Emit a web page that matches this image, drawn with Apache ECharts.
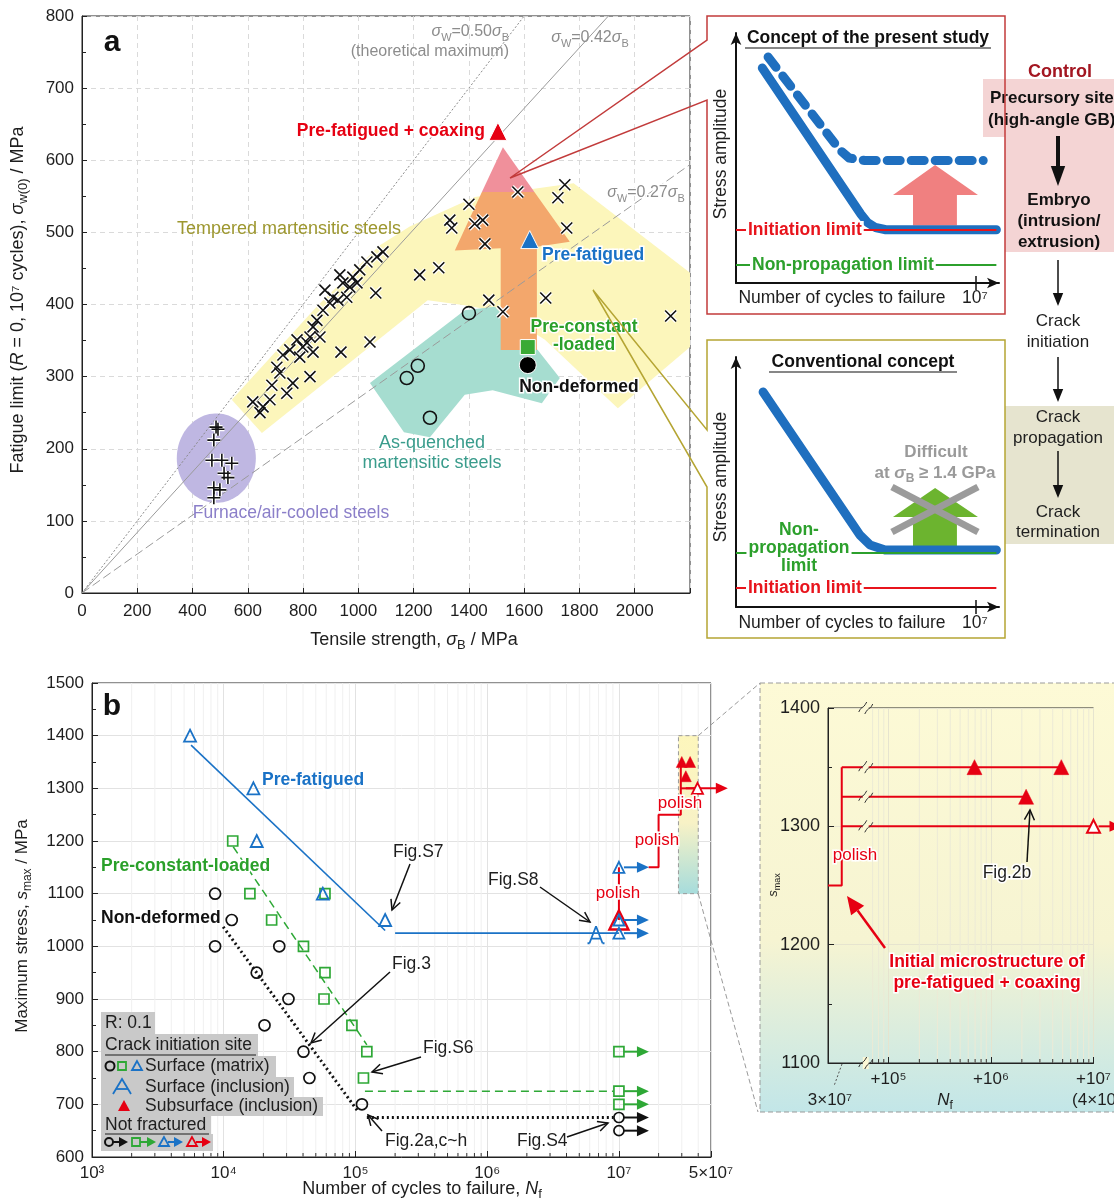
<!DOCTYPE html>
<html>
<head>
<meta charset="utf-8">
<title>Fatigue limit and S-N data of tempered martensitic steel</title>
<script src="https://cdn.jsdelivr.net/npm/echarts@6.0.0/dist/echarts.min.js"></script>
<style>
html,body{margin:0;padding:0;background:#fff;}
#chart{width:1114px;height:1202px;}
</style>
</head>
<body>
<div id="chart"></div>
<script>
// ---------- Panel a: tensile strength sigma_B vs fatigue limit sigma_w(0) (MPa) ----------
const temperedMartensitic = [
  [1577,556],[1747,566],[1722,548],[1400,539],[1331,517],[1338,506],[1421,512],[1450,517],
  [1458,484],[1754,506],[1222,441],[1291,451],[1063,416],[1472,406],[1523,390],[1678,409],
  [2130,384],[1042,348],[937,334],[1089,473],[1067,466],[1031,459],[1005,448],[980,438],
  [944,430],[995,430],[969,424],[958,410],[908,410],[897,402],[926,406],[872,392],[850,378],
  [836,369],[825,355],[814,347],[799,341],[861,355],[836,334],[788,327],[727,330],[705,313],
  [716,305],[763,291],[741,277],[825,300],[680,268],[655,258],[618,265],[644,250],[687,288],
  [778,351],[752,337],[879,420],[933,441]
];
const furnaceAirCooled = [
  [485,230],[492,227],[477,212],[470,184],[506,184],[542,180],[514,166],[528,160],[477,146],[499,143],[477,132]
];
const asQuenchedMartensitic = [[1400,388],[1215,315],[1175,298],[1259,243]];
const preFatiguedCoaxingA = [[1505,640]];
const preFatiguedA = [[1620,490]];
const preConstantLoadedA = [[1613,341]];
const nonDeformedA = [[1613,316]];
const limitRatios = [0.50, 0.42, 0.27];

// outlines of the shaded steel groups, in (sigma_B, sigma_w) units
const temperedZone = [[651,222],[542,268],[854,399],[1078,482],[1186,508],[1421,549],[1779,568],
  [2200,444],[2200,341],[1939,256],[1675,351],[1515,390],[1385,399],[1251,406]];
const asQuenchedZone = [[1042,291],[1385,392],[1494,397],[1649,337],[1729,298],[1664,263],
  [1486,281],[1385,275],[1259,216],[1165,223]];
const furnaceZone = { center:[486,187], radius:[143,62] };
const improvementArrow = [[1515,337],[1646,337],[1646,480],[1765,487],[1637,556],[1447,556],[1349,475],[1515,478]];
const improvementTip = [[1447,556],[1637,556],[1523,618]];

// ---------- Concept sketches (schematic units 0-10) ----------
const presentSN = [[1.0,8.6],[4.75,2.75],[5.0,2.42],[5.3,2.22],[5.7,2.13],[9.9,2.13]];
const presentRaisedSN = [[1.22,9.04],[3.95,5.32],[4.3,5.0],[4.9,4.9],[9.4,4.9]];
const presentInitiation = [[0,2.12],[9.9,2.12]];
const presentPropagation = [[0,0.72],[9.9,0.72]];
const presentUpArrow = [[6.73,2.3],[8.4,2.3],[8.4,3.52],[9.2,3.52],[7.57,4.72],[5.97,3.52],[6.73,3.52]];
const conventionalSN = [[1.03,8.6],[4.71,2.88],[5.1,2.48],[5.67,2.28],[9.9,2.28]];
const conventionalPropagation = [[0,2.16],[9.9,2.16]];
const conventionalInitiation = [[0,0.76],[9.9,0.76]];
const conventionalUpArrow = [[6.73,2.3],[8.4,2.3],[8.4,3.6],[9.2,3.6],[7.57,4.76],[5.97,3.6],[6.73,3.6]];
const conventionalCross = [[[5.93,4.8],[9.2,3.0]], [[5.93,3.0],[9.2,4.8]]];

// ---------- Panel b: S-N data, R = 0.1 (N_f, s_max in MPa) ----------
const nonDeformedFailed = [[8.6e3,1100],[1.15e4,1050],[8.6e3,1000],[2.64e4,1000],[1.78e4,950],
  [3.1e4,900],[2.04e4,850],[4.03e4,800],[4.47e4,750],[1.12e5,700]];
const nonDeformedRunout = [[1e7,675],[1e7,650]];
const nonDeformedSlope = [[9.9e3,1037],[1.05e5,686]];
const nonDeformedLimit = [[1.22e5,675],[9.1e6,675]];

const preConstantFailed = [[1.17e4,1200],[1.58e4,1100],[5.87e4,1100],[2.31e4,1050],[4.03e4,1000],
  [5.87e4,950],[5.77e4,900],[9.4e4,850],[1.22e5,800],[1.15e5,750]];
const preConstantRunout = [[1e7,800],[1e7,725],[1e7,700]];
const preConstantSlope = [[1.18e4,1189],[1.22e5,813]];
const preConstantLimit = [[1.18e5,725],[9.1e6,725]];

const preFatiguedFailed = [[5.55e3,1400],[1.68e4,1300],[1.78e4,1200],[5.65e4,1100],[1.68e5,1050]];
const preFatiguedInclusion = [[6.7e6,1022]];
const preFatiguedRunout = [[1e7,1150],[1e7,1050],[1e7,1025]];
const preFatiguedSlope = [[5.65e3,1382],[1.68e5,1030]];
const preFatiguedLimit = [[2.0e5,1025],[1e7,1025]];

const coaxingStart = [[1e7,1050]];
const coaxingPolish1 = [[1e7,1050],[1e7,1150]];
const coaxingPolish2 = [[1.68e7,1150],[2.0e7,1150],[2.0e7,1250],[2.95e7,1250],[2.95e7,1350]];
const coaxingSubsurface = [[3.0e7,1350],[3.47e7,1350],[3.22e7,1323]];
const coaxingRunout = [[3.95e7,1300]];
const coaxingRunoutLine = [[2.95e7,1300],[3.95e7,1300]];
const zoomWindow = { N:[2.83e7,4.0e7], s:[1100,1400] };

// enlarged coaxing steps (N_f counted after the polish)
const insetPolishStep = [[2.57e4,1250],[3.5e4,1250],[3.5e4,1350]];
const insetLevels = [[[3.5e4,1350],[4.85e6,1350]], [[3.5e4,1325],[2.2e6,1325]], [[3.5e4,1300],[1e7,1300]]];
const insetSubsurface = [[6.9e5,1350],[4.85e6,1350],[2.2e6,1325]];
const insetRunout = [[1e7,1300]];
const insetBreaks = [[6.0e4,1400],[6.0e4,1350],[6.0e4,1325],[6.0e4,1300],[6.0e4,1100]];

// ---------- styling helpers ----------
const FONT = '"Liberation Sans", Arial, Helvetica, sans-serif';
const BLUE = '#1a72c6', GREEN = '#2ea836', RED = '#e60012', INK = '#1e1e1e';
const CROSS = 'path://M0,0L10,10M10,0L0,10';
const PLUS = 'path://M5,0L5,10M0,5L10,5';
const INCL = 'path://M5,0L0,11M5,0L10,11M0.8,8L9.2,8M0,11L-1.5,11M10,11L11.5,11';

function label(x, y, text, size, color, o) {
  o = o || {};
  const st = { text, fontSize:size, fontFamily:FONT, fontWeight:o.weight||'normal',
    fontStyle:o.italic?'italic':'normal', fill:color, align:o.align||'center', verticalAlign:'middle' };
  if (o.halo) { st.stroke = '#fff'; st.lineWidth = o.halo; }
  if (o.bg) { st.backgroundColor = o.bg; st.padding = o.pad || [0,2]; }
  return { type:'text', x, y, rotation:o.rot||0, z:o.z||40, silent:true, style:st };
}
function rich(x, y, text, size, color, o) {
  o = o || {};
  const w = o.weight || 'normal';
  const lh = Math.round(size*1.35), sm = Math.round(size*0.7);
  const halo = o.halo ? { stroke:'#fff', lineWidth:o.halo } : {};
  const base = it => Object.assign({ fontSize:size, fontFamily:FONT, fontWeight:w, fontStyle:it?'italic':'normal', fill:color, lineHeight:lh }, halo);
  const rs = {
    n: base(false), i: base(true),
    sub: Object.assign(base(false), { fontSize:sm, lineHeight:sm+1, verticalAlign:'bottom' }),
    sup: Object.assign(base(false), { fontSize:sm, lineHeight:sm+1, verticalAlign:'top' })
  };
  return { type:'text', x, y, rotation:o.rot||0, z:o.z||40, silent:true,
    style:{ text, rich:rs, align:o.align||'center', verticalAlign:'middle', fontSize:size, fontFamily:FONT, fill:color, lineHeight:lh } };
}
function seg(x1, y1, x2, y2, color, w, o) {
  o = o || {};
  return { type:'line', z:o.z||40, silent:true, shape:{x1,y1,x2,y2}, style:{stroke:color, lineWidth:w, lineDash:o.dash||null} };
}
function arrow(x1, y1, x2, y2, color, w, head, o) {
  o = o || {};
  const a = Math.atan2(y2-y1, x2-x1), hl = head, hw = head*(o.spread||0.42);
  const bx = x2 - hl*Math.cos(a), by = y2 - hl*Math.sin(a);
  const p1 = [bx + hw*Math.sin(a), by - hw*Math.cos(a)], p2 = [bx - hw*Math.sin(a), by + hw*Math.cos(a)];
  const z = o.z || 40;
  if (o.open) {
    return [seg(x1,y1,x2,y2,color,w,{z}),
      { type:'polyline', z, silent:true, shape:{points:[p1,[x2,y2],p2]}, style:{stroke:color, lineWidth:w, fill:null} }];
  }
  return [seg(x1,y1,bx,by,color,w,{z}),
    { type:'polygon', z, silent:true, shape:{points:[[x2,y2],p1,p2]}, style:{fill:color} }];
}
function rect(x, y, w, h, fill, o) {
  o = o || {};
  return { type:'rect', z:o.z||5, silent:true, shape:{x,y,width:w,height:h}, style:{fill, stroke:o.stroke||null, lineWidth:o.lw||0, lineDash:o.dash||null} };
}

function polygonSeries(g, pts, fill, z) {
  return { type:'custom', xAxisIndex:g, yAxisIndex:g, z, silent:true, data:[pts[0]],
    renderItem:(p, api) => ({ type:'polygon', shape:{points:pts.map(q => api.coord(q))}, style:{fill} }) };
}
function lineSeries(g, data, color, width, type, z, extra) {
  return Object.assign({ type:'line', xAxisIndex:g, yAxisIndex:g, data, symbol:'none', silent:true, z,
    lineStyle:{color, width, type, cap:'butt'} }, extra||{});
}
function scatterSeries(g, data, symbol, size, fill, stroke, bw, z) {
  return { type:'scatter', xAxisIndex:g, yAxisIndex:g, data, symbol, symbolSize:size, z, silent:true,
    itemStyle:{color:fill, borderColor:stroke, borderWidth:bw, opacity:1} };
}
function runoutSeries(g, data, color, len, z) {
  return { type:'custom', xAxisIndex:g, yAxisIndex:g, z, silent:true, clip:false, data,
    renderItem:(p, api) => {
      const c = api.coord([api.value(0), api.value(1)]);
      const x0 = c[0] + 5, x1 = c[0] + len;
      return { type:'group', children:[
        { type:'line', shape:{x1:x0, y1:c[1], x2:x1-9, y2:c[1]}, style:{stroke:color, lineWidth:2} },
        { type:'polygon', shape:{points:[[x1,c[1]],[x1-12,c[1]-5.5],[x1-12,c[1]+5.5]]}, style:{fill:color} }
      ]};
    } };
}
function minorLogSeries(g, values, yRange, gridColor) {
  return { type:'custom', xAxisIndex:g, yAxisIndex:g, z:0, silent:true,
    data: values.map(v => [v, yRange[0]]),
    renderItem:(p, api) => {
      const b = api.coord([api.value(0), yRange[0]]);
      const t = api.coord([api.value(0), yRange[1]]);
      return { type:'group', children:[
        { type:'line', shape:{x1:b[0], y1:b[1], x2:t[0], y2:t[1]}, style:{stroke:gridColor, lineWidth:1} },
        { type:'line', shape:{x1:b[0], y1:b[1], x2:b[0], y2:b[1]-4}, style:{stroke:'#333', lineWidth:1} }
      ]};
    } };
}

// minor positions 2..9 of each decade for the log axes
const minorMain = [], minorInset = [];
for (let e = 3; e <= 7; e++) for (let m = 2; m <= 9; m++) { const v = m * Math.pow(10, e); if (v < 5e7) minorMain.push(v); }
for (let e = 4; e <= 6; e++) for (let m = 2; m <= 9; m++) { const v = m * Math.pow(10, e); if (v > 6.5e4) minorInset.push(v); }

const SUP = {3:'³',4:'⁴',5:'⁵',6:'⁶',7:'⁷'};
function decadeLabel(prefix) {
  return v => {
    const e = Math.round(Math.log10(v));
    if (Math.abs(v / Math.pow(10, e) - 1) < 1e-6) return prefix + '10' + SUP[e];
    if (!prefix && Math.abs(v / 5e7 - 1) < 1e-6) return '5×10⁷';
    return '';
  };
}
const plain = v => String(Math.round(v));

const axisText = { fontSize:17, color:INK, fontFamily:FONT };
const conceptAxis = { type:'value', min:0, max:10,
  axisLine:{ symbol:['none','arrow'], symbolSize:[8,12], lineStyle:{color:'#111', width:2} },
  axisTick:{show:false}, axisLabel:{show:false}, splitLine:{show:false} };

// ---------- series ----------
const series = [];
// panel a regions
series.push(polygonSeries(0, temperedZone, '#fcf6bb', 1));
series.push(polygonSeries(0, asQuenchedZone, '#a6ddd0', 1));
series.push({ type:'custom', xAxisIndex:0, yAxisIndex:0, z:1, silent:true, data:[furnaceZone.center],
  renderItem:(p, api) => {
    const c = api.coord(furnaceZone.center), s = api.size(furnaceZone.radius), pts = [];
    for (let k = 0; k < 90; k++) { const t = k/90*2*Math.PI; pts.push([c[0]+s[0]*Math.cos(t), c[1]+s[1]*Math.sin(t)]); }
    return { type:'polygon', shape:{points:pts}, style:{fill:'#bfb7e2'} };
  } });
series.push(polygonSeries(0, improvementArrow, '#f3a76c', 2));
series.push(polygonSeries(0, improvementTip, '#f0909b', 2));
// sigma_w = k * sigma_B guide lines
const guideStyles = [['#8a8a8a',[2,2]], ['#9a9a9a','solid'], ['#9a9a9a',[9,4]]];
limitRatios.forEach((k, i) => series.push(lineSeries(0, [[0,0],[2200,2200*k]], guideStyles[i][0], 1, guideStyles[i][1], 3)));
// panel a markers
series.push(scatterSeries(0, temperedMartensitic, CROSS, 11, 'transparent', '#fff', 4, 4));
series.push(scatterSeries(0, temperedMartensitic, CROSS, 11, 'transparent', '#111', 1.6, 5));
series.push(scatterSeries(0, furnaceAirCooled, PLUS, 13, 'transparent', '#fff', 4, 4));
series.push(scatterSeries(0, furnaceAirCooled, PLUS, 13, 'transparent', '#111', 1.6, 5));
series.push(scatterSeries(0, asQuenchedMartensitic, 'circle', 13, 'transparent', '#111', 1.6, 5));
series.push(scatterSeries(0, preFatiguedCoaxingA, 'triangle', 18, RED, '#fff', 1, 6));
series.push(scatterSeries(0, preFatiguedA, 'triangle', 18, BLUE, '#fff', 1, 6));
series.push(scatterSeries(0, preConstantLoadedA, 'rect', 15, '#3aaa35', '#fff', 1, 6));
series.push(scatterSeries(0, nonDeformedA, 'circle', 17, '#000', '#fff', 1, 6));

// concept: present study (grid 1)
series.push(polygonSeries(1, presentUpArrow, '#f08080', 2));
series.push(lineSeries(1, presentSN, '#1f6fbf', 9, 'solid', 3, {lineStyle:{color:'#1f6fbf', width:9, cap:'round', join:'round'}}));
series.push(lineSeries(1, presentRaisedSN, '#1f6fbf', 9, [13,11], 3, {lineStyle:{color:'#1f6fbf', width:9, type:[13,11], cap:'round', join:'round'}}));
series.push(lineSeries(1, presentInitiation, '#e8141c', 2, 'solid', 4));
series.push(lineSeries(1, presentPropagation, '#2ca02c', 2, 'solid', 4));
// concept: conventional (grid 2)
series.push(polygonSeries(2, conventionalUpArrow, '#6cb42f', 2));
series.push(lineSeries(2, conventionalSN, '#1f6fbf', 9, 'solid', 3, {lineStyle:{color:'#1f6fbf', width:9, cap:'round', join:'round'}}));
series.push(lineSeries(2, conventionalPropagation, '#2ca02c', 2, 'solid', 4));
series.push(lineSeries(2, conventionalInitiation, '#e8141c', 2, 'solid', 4));
conventionalCross.forEach(c => series.push(lineSeries(2, c, '#9b9b9b', 7, 'solid', 5)));

// panel b (grid 3)
series.push(minorLogSeries(3, minorMain, [600,1500], '#f0f0f0'));
series.push({ type:'custom', xAxisIndex:3, yAxisIndex:3, z:1, silent:true, clip:false, data:[[zoomWindow.N[0], zoomWindow.s[0]]],
  renderItem:(p, api) => {
    const tl = api.coord([zoomWindow.N[0], zoomWindow.s[1]]), br = api.coord([zoomWindow.N[1], zoomWindow.s[0]]);
    const grad = new echarts.graphic.LinearGradient(0,0,0,1,[{offset:0,color:'#fdf6bc'},{offset:0.55,color:'#f8f2c6'},{offset:1,color:'#a6dcdc'}]);
    return { type:'group', children:[
      { type:'rect', shape:{x:tl[0], y:tl[1], width:br[0]-tl[0], height:br[1]-tl[1]}, style:{fill:grad, stroke:'#9a9a9a', lineWidth:1, lineDash:[4,3]} },
      { type:'line', shape:{x1:br[0], y1:tl[1], x2:760, y2:683}, style:{stroke:'#9a9a9a', lineWidth:1, lineDash:[5,3]} },
      { type:'line', shape:{x1:br[0], y1:br[1], x2:758, y2:1112}, style:{stroke:'#9a9a9a', lineWidth:1, lineDash:[5,3]} }
    ]};
  } });
series.push(lineSeries(3, nonDeformedSlope, '#111', 3, [2,3], 3));
series.push(lineSeries(3, nonDeformedLimit, '#111', 3, [2,3], 3));
series.push(lineSeries(3, preConstantSlope, GREEN, 1.5, [8,5], 3));
series.push(lineSeries(3, preConstantLimit, GREEN, 1.5, [8,5], 3));
series.push(lineSeries(3, preFatiguedSlope, BLUE, 1.6, 'solid', 3));
series.push(lineSeries(3, preFatiguedLimit, BLUE, 1.6, 'solid', 3));
series.push(lineSeries(3, coaxingPolish1, RED, 2, 'solid', 3));
series.push(lineSeries(3, coaxingPolish2, RED, 2, 'solid', 3));
series.push(lineSeries(3, coaxingRunoutLine, RED, 2, 'solid', 3, {clip:false}));
series.push(scatterSeries(3, nonDeformedFailed, 'circle', 11, 'transparent', '#111', 1.7, 5));
series.push(scatterSeries(3, nonDeformedRunout, 'circle', 10, 'transparent', '#111', 1.7, 5));
series.push(runoutSeries(3, nonDeformedRunout, '#111', 30, 5));
series.push(scatterSeries(3, preConstantFailed, 'rect', 10, 'transparent', GREEN, 1.7, 5));
series.push(scatterSeries(3, preConstantRunout, 'rect', 10, 'transparent', GREEN, 1.7, 5));
series.push(runoutSeries(3, preConstantRunout, GREEN, 30, 5));
series.push(scatterSeries(3, coaxingStart, 'triangle', 19, 'transparent', RED, 2.4, 5));
series.push(scatterSeries(3, preFatiguedFailed, 'triangle', 12, 'transparent', BLUE, 1.8, 6));
series.push(scatterSeries(3, preFatiguedRunout, 'triangle', 11, 'transparent', BLUE, 1.8, 6));
series.push(runoutSeries(3, preFatiguedRunout, BLUE, 30, 6));
series.push(scatterSeries(3, preFatiguedInclusion, INCL, 17, 'transparent', BLUE, 1.8, 6));
series.push(scatterSeries(3, coaxingSubsurface, 'triangle', 11, RED, RED, 0.5, 6));
series.push(scatterSeries(3, coaxingRunout, 'triangle', 11, '#fff', RED, 1.8, 7));
series.push(runoutSeries(3, [coaxingRunoutLine[0]], RED, 47, 6));

// inset (grid 4)
series.push(minorLogSeries(4, minorInset, [1100,1400], '#ecead6'));
series.push(lineSeries(4, insetPolishStep, RED, 2, 'solid', 3));
insetLevels.forEach(l => series.push(lineSeries(4, l, RED, 2, 'solid', 3)));
series.push(scatterSeries(4, insetSubsurface, 'triangle', 15, RED, RED, 0.5, 6));
series.push(scatterSeries(4, insetRunout, 'triangle', 13, '#fff', RED, 2, 7));
series.push(runoutSeries(4, insetRunout, RED, 28, 6));
series.push({ type:'custom', xAxisIndex:4, yAxisIndex:4, z:8, silent:true, clip:false, data:insetBreaks,
  renderItem:(p, api) => {
    const c = api.coord([api.value(0), api.value(1)]);
    return { type:'group', children:[
      { type:'rect', shape:{x:c[0]-3, y:c[1]-6, width:6, height:12}, style:{fill:'#fbf8d6'} },
      { type:'bezierCurve', shape:{x1:c[0]-7, y1:c[1]+4, x2:c[0]+1, y2:c[1]-6, cpx1:c[0]-3, cpy1:c[1]-4, cpx2:c[0]-4, cpy2:c[1]+3}, style:{stroke:'#333', lineWidth:1, fill:null} },
      { type:'bezierCurve', shape:{x1:c[0]-1, y1:c[1]+6, x2:c[0]+7, y2:c[1]-4, cpx1:c[0]+4, cpy1:c[1]-3, cpx2:c[0]+3, cpy2:c[1]+4}, style:{stroke:'#333', lineWidth:1, fill:null} }
    ]};
  } });

// ---------- annotations ----------
const g = [];
// inset background and frame
g.push({ type:'rect', z:-1, silent:true, shape:{x:760, y:683, width:360, height:429},
  style:{ fill:new echarts.graphic.LinearGradient(0,0,0,1,[{offset:0,color:'#fdfad6'},{offset:0.6,color:'#f6f4d2'},{offset:1,color:'#c2e6e8'}]),
          stroke:'#9a9a9a', lineWidth:1, lineDash:[5,3] } });

// panel a labels
g.push(label(112,43,'a',30,'#111',{weight:'bold'}));
g.push(rich(509,32,'{i|σ}{sub|W}{n|=0.50}{i|σ}{sub|B}',16,'#8c8c8c',{align:'right'}));
g.push(label(509,52,'(theoretical maximum)',16,'#8c8c8c',{align:'right'}));
g.push(rich(590,38,'{i|σ}{sub|W}{n|=0.42}{i|σ}{sub|B}',16,'#8c8c8c'));
g.push(rich(646,193,'{i|σ}{sub|W}{n|=0.27}{i|σ}{sub|B}',16,'#8c8c8c',{halo:3}));
g.push(label(485,131,'Pre-fatigued + coaxing',17.5,RED,{weight:'bold',align:'right',halo:3}));
g.push(label(542,255,'Pre-fatigued',17.5,BLUE,{weight:'bold',align:'left',halo:3}));
g.push(label(584,327,'Pre-constant',17.5,'#2aa02a',{weight:'bold',halo:3}));
g.push(label(584,345,'-loaded',17.5,'#2aa02a',{weight:'bold',halo:3}));
g.push(label(579,387,'Non-deformed',17.5,'#111',{weight:'bold',halo:3}));
g.push(label(289,229,'Tempered martensitic steels',18,'#9d972f'));
g.push(label(432,443,'As-quenched',18,'#3a9c8c'));
g.push(label(432,463,'martensitic steels',18,'#3a9c8c'));
g.push(label(291,513,'Furnace/air-cooled steels',17.5,'#8b7fc9'));
g.push(rich(18,300,'{n|Fatigue limit (}{i|R}{n| = 0, 10⁷ cycles), }{i|σ}{sub|w(0)}{n| / MPa}',18,INK,{rot:Math.PI/2}));
g.push(rich(414,640,'{n|Tensile strength, }{i|σ}{sub|B}{n| / MPa}',18,INK));

// callout frames
g.push({ type:'polyline', z:45, silent:true, shape:{points:[[510,178],[707,100],[707,314],[1005,314],[1005,16],[707,16],[707,40],[510,178]]},
  style:{stroke:'#c23b3b', lineWidth:1.5, fill:null} });
g.push({ type:'polyline', z:45, silent:true, shape:{points:[[593,290],[707,487],[707,638],[1005,638],[1005,340],[707,340],[707,430],[593,290]]},
  style:{stroke:'#b5a533', lineWidth:1.5, fill:null} });

// concept box texts
g.push(label(868,38,'Concept of the present study',17.5,'#111',{weight:'bold'}));
g.push(seg(745,48,991,48,'#111',1.2));
g.push(label(721,154,'Stress amplitude',17.5,INK,{rot:Math.PI/2}));
g.push(label(842,298,'Number of cycles to failure',17.5,INK));
g.push(label(975,298,'10⁷',17.5,INK));
g.push(seg(976,276,976,290,'#111',1.5));
g.push(label(746,230,'Initiation limit',17.5,'#e8141c',{weight:'bold',align:'left',bg:'#fff'}));
g.push(label(750,265,'Non-propagation limit',17.5,'#2ca02c',{weight:'bold',align:'left',bg:'#fff'}));

g.push(label(863,362,'Conventional concept',17.5,'#111',{weight:'bold'}));
g.push(seg(769,372,957,372,'#111',1.2));
g.push(label(721,477,'Stress amplitude',17.5,INK,{rot:Math.PI/2}));
g.push(label(799,530,'Non-',17.5,'#2ca02c',{weight:'bold'}));
g.push(label(799,548,'propagation',17.5,'#2ca02c',{weight:'bold',bg:'#fff'}));
g.push(label(799,566,'limit',17.5,'#2ca02c',{weight:'bold'}));
g.push(label(746,588,'Initiation limit',17.5,'#e8141c',{weight:'bold',align:'left',bg:'#fff'}));
g.push(label(936,452,'Difficult',17,'#9a9a9a',{weight:'bold'}));
g.push(rich(935,473,'{n|at }{i|σ}{sub|B}{n| ≥ 1.4 GPa}',17,'#9a9a9a',{weight:'bold'}));
g.push(label(842,623,'Number of cycles to failure',17.5,INK));
g.push(label(975,623,'10⁷',17.5,INK));
g.push(seg(976,600,976,614,'#111',1.5));

// flow of fatigue damage
g.push(rect(983,79,131,58,'#f4d4d4',{z:4}));
g.push(rect(1005,79,109,173,'#f4d4d4',{z:4}));
g.push(rect(1005,406,109,138,'#e6e4cf',{z:4}));
g.push(label(1060,72,'Control',18,'#a31621',{weight:'bold'}));
g.push(label(990,98,'Precursory site',17,'#111',{weight:'bold',align:'left'}));
g.push(label(988,120,'(high-angle GB)',17,'#111',{weight:'bold',align:'left'}));
arrow(1058,136,1058,186,'#111',4,20,{spread:0.36}).forEach(e => g.push(e));
g.push(label(1059,200,'Embryo',17,'#111',{weight:'bold'}));
g.push(label(1059,221,'(intrusion/',17,'#111',{weight:'bold'}));
g.push(label(1059,242,'extrusion)',17,'#111',{weight:'bold'}));
arrow(1058,260,1058,306,'#111',1.5,13,{spread:0.4}).forEach(e => g.push(e));
g.push(label(1058,321,'Crack',17,INK));
g.push(label(1058,342,'initiation',17,INK));
arrow(1058,357,1058,402,'#111',1.5,13,{spread:0.4}).forEach(e => g.push(e));
g.push(label(1058,417,'Crack',17,INK));
g.push(label(1058,438,'propagation',17,INK));
arrow(1058,451,1058,498,'#111',1.5,13,{spread:0.4}).forEach(e => g.push(e));
g.push(label(1058,512,'Crack',17,INK));
g.push(label(1058,532,'termination',17,INK));

// panel b labels
g.push(label(112,707,'b',30,'#111',{weight:'bold'}));
g.push(label(262,780,'Pre-fatigued',17.5,BLUE,{weight:'bold',align:'left',halo:3}));
g.push(label(101,866,'Pre-constant-loaded',17.5,'#2aa02a',{weight:'bold',align:'left',halo:3}));
g.push(label(101,918,'Non-deformed',17.5,'#111',{weight:'bold',align:'left',halo:3}));
g.push(label(393,852,'Fig.S7',17.5,INK,{align:'left',halo:3}));
arrow(410,864,392,910,'#111',1.5,10,{open:true,spread:0.5}).forEach(e => g.push(e));
g.push(label(488,880,'Fig.S8',17.5,INK,{align:'left',halo:3}));
arrow(540,887,590,922,'#111',1.5,10,{open:true,spread:0.5}).forEach(e => g.push(e));
g.push(label(392,964,'Fig.3',17.5,INK,{align:'left',halo:3}));
arrow(390,972,311,1043,'#111',1.5,10,{open:true,spread:0.5}).forEach(e => g.push(e));
g.push(label(423,1048,'Fig.S6',17.5,INK,{align:'left',halo:3}));
arrow(421,1057,372,1072,'#111',1.5,10,{open:true,spread:0.5}).forEach(e => g.push(e));
g.push(label(385,1141,'Fig.2a,c~h',17.5,INK,{align:'left',halo:3}));
arrow(382,1131,368,1115,'#111',1.5,10,{open:true,spread:0.5}).forEach(e => g.push(e));
g.push(label(517,1141,'Fig.S4',17.5,INK,{align:'left',halo:3}));
arrow(567,1137,608,1123,'#111',1.5,10,{open:true,spread:0.5}).forEach(e => g.push(e));
g.push(label(618,893,'polish',17,RED,{halo:3}));
g.push(label(657,840,'polish',17,RED,{halo:3}));
g.push(label(680,803,'polish',17,RED,{halo:3}));
g.push(rich(22,926,'{n|Maximum stress, }{i|s}{sub|max}{n| / MPa}',17,INK,{rot:Math.PI/2}));
g.push(rich(422,1189,'{n|Number of cycles to failure, }{i|N}{sub|f}',18,INK));

// panel b key
[[101,1012,54,22],[101,1034,157,22],[101,1056,175,21],[101,1077,193,20],[101,1097,222,19],[101,1116,110,18],[101,1134,112,17]]
  .forEach(r => g.push(rect(r[0],r[1],r[2],r[3],'#c9c9c9',{z:30})));
g.push(label(105,1023,'R: 0.1',17.5,INK,{align:'left'}));
g.push(label(105,1045,'Crack initiation site',17.5,INK,{align:'left'}));
g.push(seg(105,1055,256,1055,INK,1.2));
g.push({ type:'circle', z:41, silent:true, shape:{cx:110, cy:1066, r:4.5}, style:{fill:null, stroke:'#111', lineWidth:2} });
g.push(rect(118,1062,8,8,null,{z:41, stroke:GREEN, lw:1.8}));
g.push({ type:'polygon', z:41, silent:true, shape:{points:[[137,1061],[132,1070],[142,1070]]}, style:{fill:null, stroke:BLUE, lineWidth:1.8} });
g.push(label(145,1066,'Surface (matrix)',17.5,INK,{align:'left'}));
g.push({ type:'polyline', z:41, silent:true, shape:{points:[[113,1094],[122,1079],[131,1094]]}, style:{fill:null, stroke:BLUE, lineWidth:1.8} });
g.push(seg(116,1089,128,1089,BLUE,1.8,{z:41}));
g.push(label(145,1087,'Surface (inclusion)',17.5,INK,{align:'left'}));
g.push({ type:'polygon', z:41, silent:true, shape:{points:[[124,1100],[118,1111],[130,1111]]}, style:{fill:RED} });
g.push(label(145,1106,'Subsurface (inclusion)',17.5,INK,{align:'left'}));
g.push(label(105,1125,'Not fractured',17.5,INK,{align:'left'}));
g.push(seg(105,1134,209,1134,INK,1.2,{z:41}));
g.push({ type:'circle', z:41, silent:true, shape:{cx:109, cy:1142, r:4}, style:{fill:null, stroke:'#111', lineWidth:2} });
arrow(113,1142,128,1142,'#111',2,9,{spread:0.55,z:41}).forEach(e => g.push(e));
g.push(rect(132,1138,8,8,null,{z:41, stroke:GREEN, lw:1.8}));
arrow(140,1142,156,1142,GREEN,2,9,{spread:0.55,z:41}).forEach(e => g.push(e));
g.push({ type:'polygon', z:41, silent:true, shape:{points:[[164,1137],[159,1146],[169,1146]]}, style:{fill:null, stroke:BLUE, lineWidth:1.8} });
arrow(168,1142,183,1142,BLUE,2,9,{spread:0.55,z:41}).forEach(e => g.push(e));
g.push({ type:'polygon', z:41, silent:true, shape:{points:[[192,1137],[187,1146],[197,1146]]}, style:{fill:null, stroke:RED, lineWidth:1.8} });
arrow(196,1142,211,1142,RED,2,9,{spread:0.55,z:41}).forEach(e => g.push(e));

// inset labels
g.push(rich(773,885,'{i|s}{sub|max}',13,INK,{rot:Math.PI/2}));
g.push(label(830,1100,'3×10⁷',17,INK));
g.push(seg(842,1064,834,1086,'#555',1,{dash:[2,2]}));
g.push(label(1100,1100,'(4×10⁷)',17,INK));
g.push(rich(945,1100,'{i|N}{sub|f}',17,INK));
g.push(label(855,855,'polish',17,RED,{halo:3}));
g.push(label(1007,873,'Fig.2b',17.5,INK,{halo:3}));
arrow(1027,862,1030,810,'#111',1.5,10,{open:true,spread:0.5}).forEach(e => g.push(e));
arrow(885,948,847,896,RED,2.5,18,{spread:0.45}).forEach(e => g.push(e));
g.push(label(987,962,'Initial microstructure of',17.5,RED,{weight:'bold',halo:3}));
g.push(label(987,983,'pre-fatigued + coaxing',17.5,RED,{weight:'bold',halo:3}));

const chart = echarts.init(document.getElementById('chart'), null, {renderer:'canvas'});
chart.setOption({
  animation:false,
  backgroundColor:'#fff',
  textStyle:{fontFamily:FONT},
  grid:[
    {left:82, top:16, width:608, height:577, show:true, borderColor:'#222', borderWidth:1, backgroundColor:'transparent'},
    {left:736, top:33, width:263, height:250},
    {left:736, top:357, width:263, height:250},
    {left:92, top:683, width:619, height:474, show:true, borderColor:'#222', borderWidth:1, backgroundColor:'transparent'},
    {left:828, top:708, width:272, height:355, show:true, borderColor:'#222', borderWidth:1, backgroundColor:'transparent'}
  ],
  xAxis:[
    {gridIndex:0, type:'value', min:0, max:2200, interval:200,
     axisLine:{lineStyle:{color:'#222'}}, axisTick:{inside:true, length:5, lineStyle:{color:'#222'}},
     axisLabel:Object.assign({margin:10, formatter:v => v === 2200 ? '' : plain(v)}, axisText),
     splitLine:{show:true, lineStyle:{color:'#dadada', type:[5,4]}}},
    Object.assign({gridIndex:1}, conceptAxis),
    Object.assign({gridIndex:2}, conceptAxis),
    {gridIndex:3, type:'log', logBase:10, min:1e3, max:5e7,
     axisLine:{lineStyle:{color:'#222'}}, axisTick:{inside:true, length:6, lineStyle:{color:'#222'}},
     axisLabel:Object.assign({margin:8, showMaxLabel:true, showMinLabel:true, formatter:decadeLabel('')}, axisText),
     splitLine:{show:true, lineStyle:{color:'#e2e2e2'}}},
    {gridIndex:4, type:'log', logBase:10, min:2.57e4, max:1e7,
     axisLine:{lineStyle:{color:'#222'}}, axisTick:{inside:true, length:6, lineStyle:{color:'#222'}},
     axisLabel:Object.assign({margin:8, showMaxLabel:true, formatter:decadeLabel('+')}, axisText),
     splitLine:{show:true, lineStyle:{color:'#e6e4cf'}}}
  ],
  yAxis:[
    {gridIndex:0, type:'value', min:0, max:800, interval:100,
     axisLine:{lineStyle:{color:'#222'}}, axisTick:{inside:true, length:5, lineStyle:{color:'#222'}},
     minorTick:{show:true, splitNumber:2, length:4, lineStyle:{color:'#222'}},
     axisLabel:Object.assign({margin:8, formatter:plain}, axisText),
     splitLine:{show:true, lineStyle:{color:'#dadada', type:[5,4]}}},
    Object.assign({gridIndex:1}, conceptAxis),
    Object.assign({gridIndex:2}, conceptAxis),
    {gridIndex:3, type:'value', min:600, max:1500, interval:100,
     axisLine:{lineStyle:{color:'#222'}}, axisTick:{inside:true, length:6, lineStyle:{color:'#222'}},
     minorTick:{show:true, splitNumber:2, length:4, lineStyle:{color:'#222'}},
     axisLabel:Object.assign({margin:8, formatter:plain}, axisText),
     splitLine:{show:true, lineStyle:{color:'#e2e2e2'}}},
    {gridIndex:4, type:'value', min:1100, max:1400, interval:100,
     axisLine:{lineStyle:{color:'#222'}}, axisTick:{inside:true, length:6, lineStyle:{color:'#222'}},
     minorTick:{show:true, splitNumber:2, length:4, lineStyle:{color:'#222'}},
     axisLabel:Object.assign({margin:8, formatter:plain}, axisText, {fontSize:18}),
     splitLine:{show:true, lineStyle:{color:'#e6e4cf'}}}
  ],
  series,
  graphic:{elements:g}
});
</script>
</body>
</html>
